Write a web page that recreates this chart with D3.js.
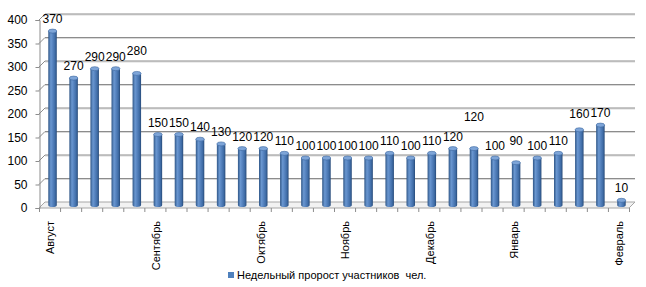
<!DOCTYPE html>
<html lang="ru">
<head>
<meta charset="UTF-8" />
<title>Недельный пророст участников</title>
<script src="https://cdn.jsdelivr.net/npm/d3@7/dist/d3.min.js"></script>
<style>
    body { margin: 0; background: #fff; }
    text { font-family: "Liberation Sans", Arial, sans-serif; fill: #000; }
</style>
</head>
<body>
<div id="main"></div>
<script>
const weeks = d3.range(28)
const values = [370, 270, 290, 290, 280, 150, 150, 140, 130, 120, 120, 110, 100, 100,
    100, 100, 110, 100, 110, 120, 120, 100, 90, 100, 110, 160, 170, 10]
const monthLabels = [
    { week: 0, name: "Август" },
    { week: 5, name: "Сентябрь" },
    { week: 10, name: "Октябрь" },
    { week: 14, name: "Ноябрь" },
    { week: 18, name: "Декабрь" },
    { week: 22, name: "Январь" },
    { week: 27, name: "Февраль" }
]
const yTicks = [0, 50, 100, 150, 200, 250, 300, 350, 400]
const seriesName = "Недельный пророст участников  чел."

const svgWidth = 646
const svgHeight = 287
const left = 39
const right = 629
const floorY = 208
const topY = 20
const depthX = 6
const depthY = -6
// labels that Excel pushed up to avoid collisions
const raised = { 4: 10, 20: 20, 22: 10, 25: 4 }

const svg = d3.select("#main").append("svg")
    .attr("width", svgWidth)
    .attr("height", svgHeight)

const defs = svg.append("defs")
const grad = defs.append("linearGradient").attr("id", "cyl")
    .attr("x1", "0%").attr("x2", "100%").attr("y1", "0%").attr("y2", "0%")
grad.selectAll("stop")
    .data([[0, "#2f5687"], [0.3, "#6a97d0"], [0.45, "#5d8ac6"], [0.8, "#3f6ca6"], [1, "#274a78"]])
    .enter().append("stop")
    .attr("offset", d => d[0])
    .attr("stop-color", d => d[1])

const x = d3.scaleBand().domain(weeks).range([left, right]).paddingInner(0).paddingOuter(0)
const yFront = d3.scaleLinear().domain([0, 400]).range([floorY, topY])
const yBack = d3.scaleLinear().domain([0, 400]).range([floorY + depthY, topY + depthY])
const yMid = d3.scaleLinear().domain([0, 400]).range([floorY + depthY / 2, topY + depthY / 2])

// back wall gridlines
const grid = svg.append("g")
grid.selectAll("line.shadow")
    .data(yTicks.slice(1))
    .enter().append("line")
    .attr("x1", left + depthX).attr("x2", right + depthX)
    .attr("y1", d => yBack(d) + 1).attr("y2", d => yBack(d) + 1)
    .attr("stroke", "#d9d9d9")
grid.selectAll("line.main")
    .data(yTicks.slice(1))
    .enter().append("line")
    .attr("x1", left + depthX).attr("x2", right + depthX)
    .attr("y1", d => yBack(d)).attr("y2", d => yBack(d))
    .attr("stroke", "#8c8c8c")
// side wall connectors
grid.selectAll("line.side")
    .data(yTicks)
    .enter().append("line")
    .attr("x1", left).attr("x2", left + depthX)
    .attr("y1", d => yFront(d)).attr("y2", d => yBack(d))
    .attr("stroke", "#8c8c8c")

// floor
svg.append("path")
    .attr("d", `M${left},${floorY}L${right},${floorY}L${right + depthX},${floorY + depthY}L${left + depthX},${floorY + depthY}Z`)
    .attr("fill", "#f2f2f2")
    .attr("stroke", "#a6a6a6")

// y axis
svg.append("g")
    .attr("transform", `translate(${left + 0.5},0)`)
    .call(d3.axisLeft(yFront).tickValues(yTicks).tickSize(4).tickPadding(8))
    .call(g => g.select(".domain").attr("stroke", "#8c8c8c"))
    .call(g => g.selectAll(".tick line").attr("stroke", "#8c8c8c"))
    .call(g => g.selectAll(".tick text")
        .style("font-family", "Liberation Sans, Arial, sans-serif")
        .style("font-size", "12px").attr("fill", "#000"))

// x axis ticks at week boundaries
svg.append("g").selectAll("line")
    .data(weeks.concat([weeks.length]))
    .enter().append("line")
    .attr("x1", d => (d < weeks.length ? x(d) : right) + 0.5)
    .attr("x2", d => (d < weeks.length ? x(d) : right) + 0.5)
    .attr("y1", floorY).attr("y2", floorY + 4)
    .attr("stroke", "#8c8c8c")

// bars (cylinders)
const barW = 8.5
const ry = 2
const bars = svg.append("g").selectAll("g")
    .data(values)
    .enter().append("g")
const cx = (d, i) => x(i) + x.bandwidth() / 2 + depthX / 2
bars.append("path")
    .attr("d", (d, i) => {
        const c = cx(d, i), t = yMid(d), b = yMid(0)
        return `M${c - barW / 2},${t}L${c - barW / 2},${b}A${barW / 2},${ry} 0 0 0 ${c + barW / 2},${b}L${c + barW / 2},${t}Z`
    })
    .attr("fill", "url(#cyl)")
bars.append("ellipse")
    .attr("cx", cx)
    .attr("cy", d => yMid(d))
    .attr("rx", barW / 2)
    .attr("ry", ry)
    .attr("fill", "#7ea5d8")
    .attr("stroke", "#3b66a0")
    .attr("stroke-width", 0.6)

// data labels
svg.append("g").selectAll("text")
    .data(values)
    .enter().append("text")
    .attr("x", cx)
    .attr("y", (d, i) => yMid(d) - 8 - (raised[i] || 0))
    .attr("text-anchor", "middle")
    .style("font-size", "12px")
    .text(d => d)

// month labels
svg.append("g").selectAll("text")
    .data(monthLabels)
    .enter().append("text")
    .attr("transform", d => `translate(${x(d.week) + x.bandwidth() / 2 + 1},${floorY + 13}) rotate(-90)`)
    .attr("text-anchor", "end")
    .attr("dy", "0.35em")
    .style("font-size", "11px")
    .text(d => d.name)

// legend
const legend = svg.append("g").attr("transform", "translate(228,272)")
legend.append("rect")
    .attr("width", 6).attr("height", 6)
    .attr("fill", "#4f81bd")
legend.append("text")
    .attr("x", 9).attr("y", 7)
    .style("font-size", "11px")
    .style("white-space", "pre")
    .text(seriesName)
</script>
</body>
</html>
